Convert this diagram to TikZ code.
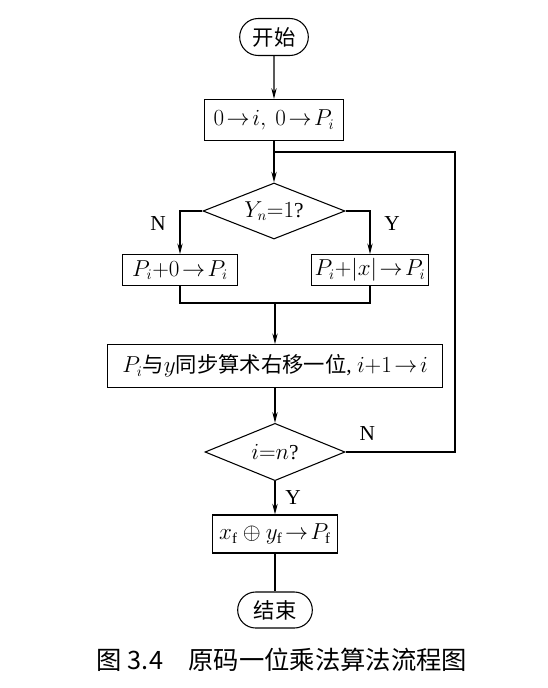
\documentclass[tikz,border=0pt]{standalone}
\usepackage{amsmath}
\usepackage{xcolor}
\usepackage{fontspec}
\setmainfont{Liberation Serif}
\newfontfamily\cjk{Noto Sans CJK SC}
\usetikzlibrary{shapes.geometric,shapes.misc,arrows.meta}

\tikzset{
  stepbox/.style={rectangle, draw, line width=0.8pt, inner sep=2pt},
  termbox/.style={rounded rectangle, draw, line width=0.8pt, inner sep=2pt},
  testbox/.style={diamond, draw, line width=0.8pt, inner sep=0pt, aspect=2.5},
  flow/.style={line width=0.8pt}
}

\begin{document}
\begin{tikzpicture}[x=0.75pt, y=-0.75pt, font=\fontsize{16pt}{19pt}\selectfont, >={Stealth[length=8pt,width=4pt]}]
        \useasboundingbox (0,0) rectangle (548,688);

        \node (start) [termbox, minimum width=55.5pt, minimum height=27.75pt] at (274,37) {\cjk 开始};
        \node (init) [stepbox, minimum width=104pt, minimum height=31pt] at (274,120) {$0\!\rightarrow\! i,\ 0\!\rightarrow\! P_i$};
        \node (test1) [testbox, minimum width=106.5pt, minimum height=42pt] at (274,211) {$Y_n{=}1$?};
        \node (addzero) [stepbox, minimum width=86pt, minimum height=23pt] at (180,270) {$P_i{+}0\!\rightarrow\! P_i$};
        \node (addx) [stepbox, minimum width=88pt, minimum height=23pt] at (370,270) {$P_i{+}|x|\!\rightarrow\! P_i$};
        \node (shift) [stepbox, minimum width=251pt, minimum height=32pt] at (275,366) {$P_i${\cjk 与}$y${\cjk 同步算术右移一位}, $i{+}1\!\rightarrow\! i$};
        \node (test2) [testbox, minimum width=105pt, minimum height=43pt] at (275,452) {$i{=}n$?};
        \node (sign) [stepbox, minimum width=94pt, minimum height=28.5pt] at (275,534) {$x_\mathrm{f}\oplus y_\mathrm{f}\!\rightarrow\! P_\mathrm{f}$};
        \node (stop) [termbox, minimum width=60pt, minimum height=27pt] at (275,610) {\cjk 结束};
        \node (caption) at (282,660) {\fontsize{19pt}{21pt}\selectfont\cjk 图 3.4\quad 原码一位乘法算法流程图};

        \coordinate (join) at (274,152);
        \coordinate (loop) at (455,152);
        \coordinate (merge) at (275,303);

        \draw[flow, ->] (start) -- (init);
        \draw[flow] (init) -- (join);
        \draw[flow, ->] (join) -- (test1);
        \draw[flow, ->] (test1.west) -| node[pos=0.65, left=7pt] {N} (addzero);
        \draw[flow, ->] (test1.east) -| node[pos=0.65, right=7pt] {Y} (addx);
        \draw[flow] (addzero) |- (merge) -| (addx);
        \draw[flow, ->] (merge) -- (shift);
        \draw[flow, ->] (shift) -- (test2);
        \draw[flow] (test2.east) -| node[pos=0.1, above=5pt] {N} (loop) -- (join);
        \draw[flow, ->] (test2) -- node[right=4pt] {Y} (sign);
        \draw[flow] (sign) -- (stop);
    \end{tikzpicture}
\end{document}
